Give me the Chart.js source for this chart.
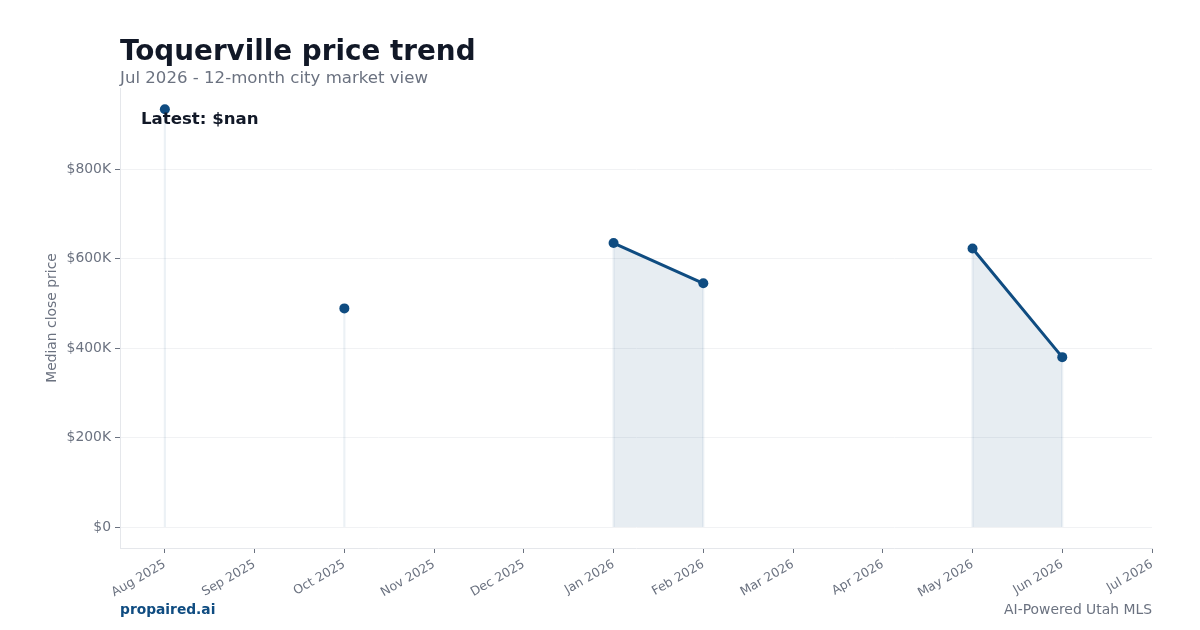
<!DOCTYPE html>
<html>
<head>
<meta charset="utf-8">
<script src="https://cdn.jsdelivr.net/npm/chart.js@4/dist/chart.umd.min.js"></script>
<style>
  html, body { margin: 0; padding: 0; background: #fff; }
  body { width: 1200px; height: 630px; position: relative; overflow: hidden; font-family: "DejaVu Sans", sans-serif; }
  #wrap { position: absolute; left: 0; top: 0; width: 1200px; height: 630px; }
  .txt { position: absolute; white-space: nowrap; }
  #title { left: 120px; top: 34px; font-size: 27.8px; font-weight: bold; color: #111827; }
  #subtitle { left: 120px; top: 68px; font-size: 16.6px; color: #6b7280; }
  #latest { left: 141px; top: 109px; font-size: 16.6px; font-weight: bold; color: #111827; }
  #brand { left: 120px; top: 601px; font-size: 13.8px; font-weight: bold; color: #0f4c81; }
  #tagline { right: 48px; top: 601px; font-size: 13.9px; color: #6b7280; }
</style>
</head>
<body>
<div id="wrap"><canvas id="priceChart" width="1200" height="630"></canvas></div>
<div class="txt" id="title">Toquerville price trend</div>
<div class="txt" id="subtitle">Jul 2026 - 12-month city market view</div>
<div class="txt" id="latest">Latest: $nan</div>
<div class="txt" id="brand">propaired.ai</div>
<div class="txt" id="tagline">AI-Powered Utah MLS</div>
<script>
var months = ['Aug 2025', 'Sep 2025', 'Oct 2025', 'Nov 2025', 'Dec 2025', 'Jan 2026',
              'Feb 2026', 'Mar 2026', 'Apr 2026', 'May 2026', 'Jun 2026', 'Jul 2026'];
var medianPrice = [934000, null, 489000, null, null, 635000, 545000, null, null, 623000, 380000, null];
var yTicks = [0, 200000, 400000, 600000, 800000];

var points = medianPrice.map(function (v, i) { return { x: i, y: v }; });

var blue = '#0f4c81';
var grey = '#6b7280';

var ctx = document.getElementById('priceChart').getContext('2d');
var priceChart = new Chart(ctx, {
  data: {
    datasets: [{
      type: 'line',
      data: points,
      borderColor: blue,
      borderWidth: 3,
      backgroundColor: 'rgba(15,76,129,0.1)',
      fill: 'origin',
      spanGaps: false,
      tension: 0,
      pointRadius: 5,
      pointBackgroundColor: blue,
      pointBorderWidth: 0,
      order: 1
    }, {
      // thin stems under each point, like the fill edges in the original
      type: 'bar',
      data: points,
      backgroundColor: 'rgba(15,76,129,0.08)',
      barThickness: 1.5,
      order: 2
    }]
  },
  options: {
    responsive: false,
    animation: false,
    layout: { padding: { left: 36, right: 48, top: 88, bottom: 18 } },
    plugins: { legend: { display: false }, tooltip: { enabled: false } },
    scales: {
      x: {
        type: 'linear',
        offset: false,
        min: -0.5,
        max: 11,
        afterBuildTicks: function (scale) {
          scale.ticks = months.map(function (m, i) { return { value: i }; });
        },
        afterFit: function (scale) { scale.height = 64; },
        ticks: {
          autoSkip: false,
          minRotation: 30,
          maxRotation: 30,
          color: grey,
          font: { family: 'DejaVu Sans', size: 12.5 },
          padding: 4,
          callback: function (v) { return months[v] || ''; }
        },
        grid: { offset: false, drawOnChartArea: false, drawTicks: true, tickLength: 5, tickColor: grey },
        border: { display: true, color: '#e5e7eb', width: 1 }
      },
      y: {
        min: -46700,
        max: 981700,
        afterBuildTicks: function (scale) {
          scale.ticks = yTicks.map(function (v) { return { value: v }; });
        },
        afterFit: function (scale) { scale.width = 84; },
        ticks: {
          color: grey,
          font: { family: 'DejaVu Sans', size: 13.9 },
          padding: 4,
          callback: function (v) { return v === 0 ? '$0' : '$' + (v / 1000) + 'K'; }
        },
        title: {
          display: true,
          text: 'Median close price',
          color: grey,
          font: { family: 'DejaVu Sans', size: 13.9 },
          padding: { top: 8, bottom: 0 }
        },
        grid: { color: '#f1f2f4', lineWidth: 1, drawTicks: true, tickLength: 5, tickColor: grey },
        border: { display: true, color: '#e5e7eb', width: 1 }
      }
    }
  }
});
</script>
</body>
</html>
